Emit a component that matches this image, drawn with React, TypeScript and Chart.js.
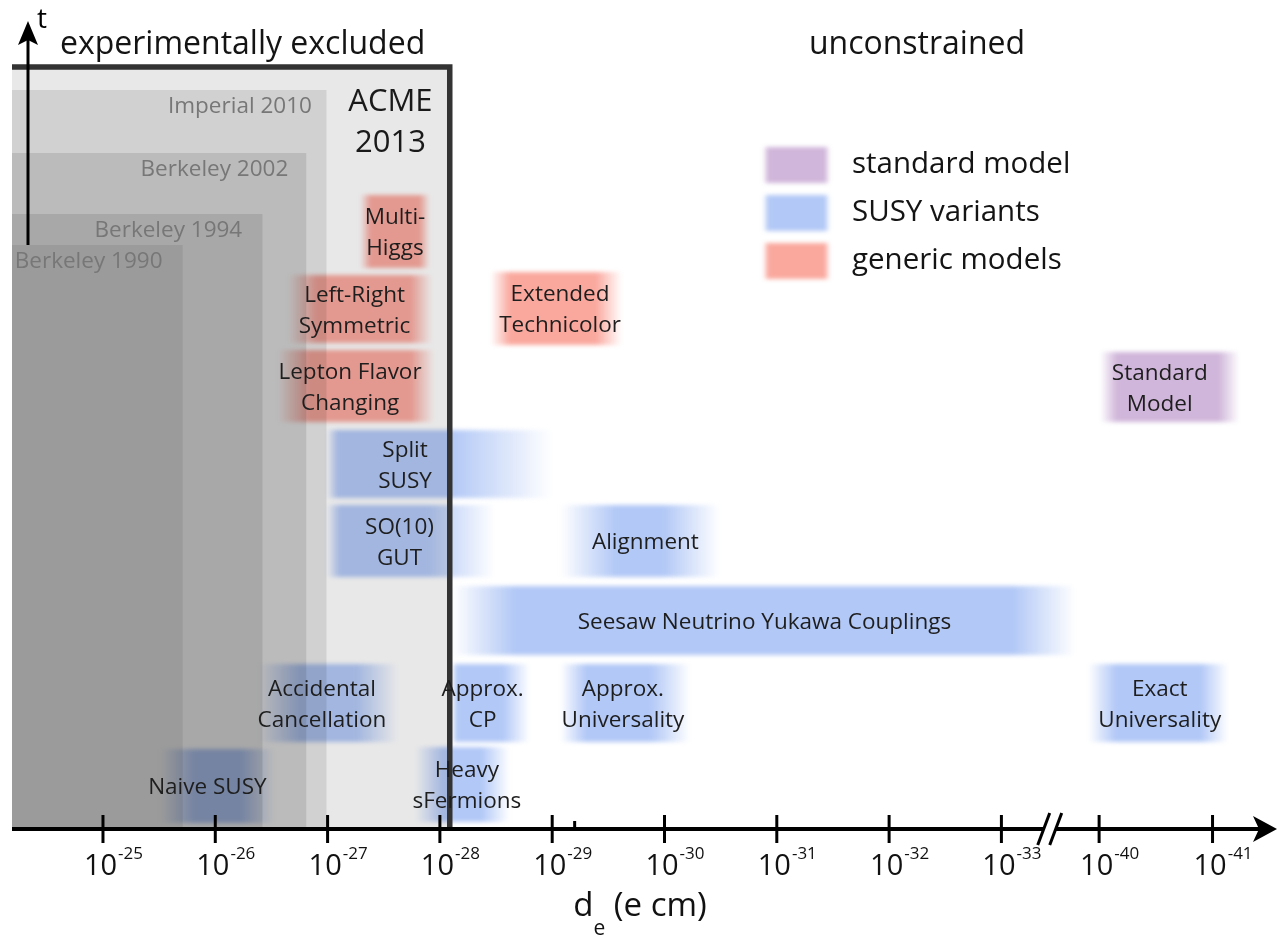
import React, { useEffect, useRef } from "react";
import { Chart, registerables } from "chart.js";
Chart.register(...registerables);

// ---- axis data (x in "decade" units, 10^-25 at 0) ----
const tickExponents = [-25, -26, -27, -28, -29, -30, -31, -32, -33, -40, -41];
const tickPositions = [0, 1, 2, 3, 4, 5, 6, 7, 8, 8.87, 9.88];
const minorTickPositions = [4.2];
const axisBreakPosition = 8.43;

// ---- experimental limits (nested excluded regions) ----
const experimentNames = ["ACME 2013", "Imperial 2010", "Berkeley 2002", "Berkeley 1994", "Berkeley 1990"];
const experimentRight = [3.11, 1.99, 1.81, 1.42, 0.71];
const experimentTop = [76.2, 73.9, 67.6, 61.5, 58.4];
const experimentFill = ["#e8e8e8", "#d1d1d1", "#bbbbbb", "#a8a8a8", "#9b9b9b"];

// ---- theory models ----
const modelNames = [
  "Multi-\nHiggs",
  "Left-Right\nSymmetric",
  "Lepton Flavor\nChanging",
  "Extended\nTechnicolor",
  "Split\nSUSY",
  "SO(10)\nGUT",
  "Alignment",
  "Seesaw Neutrino Yukawa Couplings",
  "Accidental\nCancellation",
  "Approx.\nCP",
  "Approx.\nUniversality",
  "Exact\nUniversality",
  "Standard\nModel",
  "Naive SUSY",
  "Heavy\nsFermions",
];
const modelCategory = [
  "generic", "generic", "generic", "generic",
  "susy", "susy", "susy", "susy", "susy", "susy", "susy", "susy",
  "sm", "susy", "susy",
];
const modelXStart = [2.29, 1.65, 1.56, 3.45, 1.99, 1.99, 4.07, 3.11, 1.38, 3.11, 4.07, 8.77, 8.88, 0.51, 2.78];
const modelXEnd = [2.91, 2.93, 2.95, 4.62, 4.0, 3.49, 5.49, 8.66, 2.63, 3.8, 5.23, 10.02, 10.12, 1.53, 3.62];
const modelYLow = [56.1, 48.6, 40.7, 48.4, 33.1, 25.2, 25.2, 17.4, 8.7, 8.7, 8.7, 8.7, 40.7, 0.6, 0.7];
const modelYHigh = [63.4, 55.4, 47.9, 55.7, 39.9, 32.4, 32.4, 24.3, 16.5, 16.5, 16.5, 16.5, 47.7, 8.0, 8.2];
const modelLabelX = [2.6, 2.24, 2.2, 4.07, 2.69, 2.64, 4.83, 5.89, 1.95, 3.38, 4.63, 9.41, 9.41, 0.93, 3.24];
const modelFadeLeft = [0.15, 0.2, 0.2, 0.15, 0.05, 0.08, 0.35, 0.1, 0.3, 0.05, 0.2, 0.2, 0.12, 0.3, 0.3];
const modelFadeRight = [0.15, 0.15, 0.15, 0.2, 0.45, 0.4, 0.35, 0.1, 0.3, 0.35, 0.3, 0.2, 0.15, 0.3, 0.3];

const legendKeys = ["sm", "susy", "generic"];
const legendLabels = ["standard model", "SUSY variants", "generic models"];
const categoryRGB: Record<string, number[]> = {
  sm: [208, 182, 218],
  susy: [178, 200, 246],
  generic: [250, 168, 158],
};

const FONT = '"Open Sans", "Noto Sans", sans-serif';
const X_MIN = -0.917;
const X_MAX = 10.454;
const Y_MIN = -11.7;
const Y_MAX = 82.9;

function rgba(c: number[], a: number) {
  return `rgba(${c[0]},${c[1]},${c[2]},${a})`;
}

function fadedRect(ctx: CanvasRenderingContext2D, x0: number, x1: number, yTop: number, yBot: number, c: number[], fl: number, fr: number) {
  ctx.save();
  ctx.globalCompositeOperation = "multiply";
  ctx.filter = "blur(2px)";
  const g = ctx.createLinearGradient(x0, 0, x1, 0);
  g.addColorStop(0, rgba(c, 0));
  g.addColorStop(Math.max(0.001, fl), rgba(c, 1));
  g.addColorStop(Math.min(0.999, 1 - fr), rgba(c, 1));
  g.addColorStop(1, rgba(c, 0));
  ctx.fillStyle = g;
  ctx.fillRect(x0, yTop, x1 - x0, yBot - yTop);
  ctx.restore();
}

const diagramPlugin = {
  id: "edmDiagram",
  afterDraw(chart: any) {
    const ctx: CanvasRenderingContext2D = chart.ctx;
    const xs = chart.scales.x;
    const ys = chart.scales.y;
    const X = (v: number) => xs.getPixelForValue(v);
    const Y = (v: number) => ys.getPixelForValue(v);
    const left = X(X_MIN) + 12;
    const axisY = Y(0);

    ctx.save();
    ctx.fillStyle = "#ffffff";
    ctx.fillRect(0, 0, chart.width, chart.height);

    // excluded regions
    for (let i = 0; i < experimentNames.length; i++) {
      ctx.fillStyle = experimentFill[i];
      const r = X(experimentRight[i]);
      const t = Y(experimentTop[i]);
      ctx.fillRect(left, t, r - left, axisY - t);
    }

    // model boxes
    for (let i = 0; i < modelNames.length; i++) {
      fadedRect(ctx, X(modelXStart[i]), X(modelXEnd[i]), Y(modelYHigh[i]), Y(modelYLow[i]),
        categoryRGB[modelCategory[i]], modelFadeLeft[i], modelFadeRight[i]);
    }

    // ACME border
    const acmeR = X(experimentRight[0]);
    const acmeT = Y(experimentTop[0]);
    ctx.strokeStyle = "#333333";
    ctx.lineWidth = 5.5;
    ctx.beginPath();
    ctx.moveTo(left, acmeT);
    ctx.lineTo(acmeR - 2.5, acmeT);
    ctx.lineTo(acmeR - 2.5, axisY);
    ctx.stroke();

    // experiment labels
    ctx.fillStyle = "#777777";
    ctx.font = `22.5px ${FONT}`;
    ctx.textBaseline = "middle";
    ctx.textAlign = "right";
    const expLabelRight = [0, 1.86, 1.65, 1.24, 0.53];
    for (let i = 1; i < experimentNames.length; i++) {
      ctx.fillText(experimentNames[i], X(expLabelRight[i]), Y(experimentTop[i]) + 17);
    }
    ctx.fillStyle = "#1a1a1a";
    ctx.textAlign = "center";
    ctx.font = `31px ${FONT}`;
    ctx.fillText("ACME", X(2.56), 102);
    ctx.fillText("2013", X(2.56), 143);

    // model labels
    ctx.font = `22.5px ${FONT}`;
    ctx.fillStyle = "#1e1e1e";
    for (let i = 0; i < modelNames.length; i++) {
      const lines = modelNames[i].split("\n");
      const cy = (Y(modelYHigh[i]) + Y(modelYLow[i])) / 2 + 2;
      const lh = 31;
      lines.forEach((ln, k) => {
        ctx.fillText(ln, X(modelLabelX[i]), cy + (k - (lines.length - 1) / 2) * lh);
      });
    }

    // header texts
    ctx.font = `32px ${FONT}`;
    ctx.fillStyle = "#141414";
    ctx.textAlign = "left";
    ctx.fillText("experimentally excluded", 60, 45);
    ctx.textAlign = "center";
    ctx.fillText("unconstrained", 917, 45);

    // legend
    for (let i = 0; i < legendKeys.length; i++) {
      const top = 147 + i * 48;
      fadedRect(ctx, 763, 830, top, top + 36, categoryRGB[legendKeys[i]], 0.08, 0.08);
      ctx.fillStyle = "#141414";
      ctx.textAlign = "left";
      ctx.font = `29.5px ${FONT}`;
      ctx.fillText(legendLabels[i], 852, top + 18);
    }

    // t axis
    ctx.strokeStyle = "#000";
    ctx.fillStyle = "#000";
    ctx.lineWidth = 3;
    ctx.beginPath();
    ctx.moveTo(28, Y(experimentTop[4]));
    ctx.lineTo(28, 38);
    ctx.stroke();
    ctx.beginPath();
    ctx.moveTo(28, 21);
    ctx.lineTo(18, 45);
    ctx.lineTo(28, 40);
    ctx.lineTo(38, 45);
    ctx.closePath();
    ctx.fill();
    ctx.font = `28px ${FONT}`;
    ctx.textAlign = "left";
    ctx.fillText("t", 37, 20);

    // x axis
    ctx.lineWidth = 4;
    ctx.beginPath();
    ctx.moveTo(left, axisY);
    ctx.lineTo(1262, axisY);
    ctx.stroke();
    ctx.beginPath();
    ctx.moveTo(1277, axisY);
    ctx.lineTo(1253, axisY - 13);
    ctx.lineTo(1259, axisY);
    ctx.lineTo(1253, axisY + 13);
    ctx.closePath();
    ctx.fill();

    // axis break
    const bx = X(axisBreakPosition);
    ctx.fillStyle = "#fff";
    ctx.fillRect(bx - 6, axisY - 3, 12, 6);
    ctx.strokeStyle = "#000";
    ctx.lineWidth = 3;
    [-6, 6].forEach((d) => {
      ctx.beginPath();
      ctx.moveTo(bx + d - 6, axisY + 16);
      ctx.lineTo(bx + d + 6, axisY - 16);
      ctx.stroke();
    });

    // ticks
    ctx.lineWidth = 3;
    tickPositions.forEach((p) => {
      const x = X(p);
      ctx.beginPath();
      ctx.moveTo(x, axisY - 14);
      ctx.lineTo(x, axisY + 14);
      ctx.stroke();
    });
    minorTickPositions.forEach((p) => {
      const x = X(p);
      ctx.beginPath();
      ctx.moveTo(x, axisY - 8);
      ctx.lineTo(x, axisY);
      ctx.stroke();
    });

    // tick labels
    ctx.fillStyle = "#111";
    ctx.textAlign = "left";
    tickExponents.forEach((e, i) => {
      const x = X(tickPositions[i]) + 10;
      ctx.font = `29px ${FONT}`;
      const w1 = ctx.measureText("10").width;
      ctx.font = `17px ${FONT}`;
      const sup = String(e);
      const w2 = ctx.measureText(sup).width;
      const x0 = x - (w1 + w2) / 2;
      ctx.font = `29px ${FONT}`;
      ctx.fillText("10", x0, 867);
      ctx.font = `17px ${FONT}`;
      ctx.fillText(sup, x0 + w1 + 1, 854);
    });

    // x axis title
    ctx.font = `33px ${FONT}`;
    const wd = ctx.measureText("d").width;
    const wr = ctx.measureText(" (e cm)").width;
    ctx.font = `21px ${FONT}`;
    const we = ctx.measureText("e").width;
    const tx = 640 - (wd + we + wr) / 2;
    ctx.font = `33px ${FONT}`;
    ctx.fillText("d", tx, 907);
    ctx.fillText(" (e cm)", tx + wd + we, 907);
    ctx.font = `21px ${FONT}`;
    ctx.fillText("e", tx + wd, 929);

    ctx.restore();
  },
};

export default function App() {
  const ref = useRef<HTMLCanvasElement>(null);
  useEffect(() => {
    document.body.style.margin = "0";
    const chart = new Chart(ref.current as HTMLCanvasElement, {
      type: "scatter",
      data: { datasets: [{ data: [], pointRadius: 0 }] },
      options: {
        animation: false,
        responsive: false,
        layout: { padding: 0 },
        plugins: { legend: { display: false }, tooltip: { enabled: false } },
        scales: {
          x: { type: "linear", min: X_MIN, max: X_MAX, display: false },
          y: { type: "linear", min: Y_MIN, max: Y_MAX, display: false },
        },
      },
      plugins: [diagramPlugin],
    });
    return () => chart.destroy();
  }, []);
  return (
    <div style={{ position: "absolute", left: 0, top: 0, width: 1277, height: 946 }}>
      <canvas ref={ref} width={1277} height={946} />
    </div>
  );
}
